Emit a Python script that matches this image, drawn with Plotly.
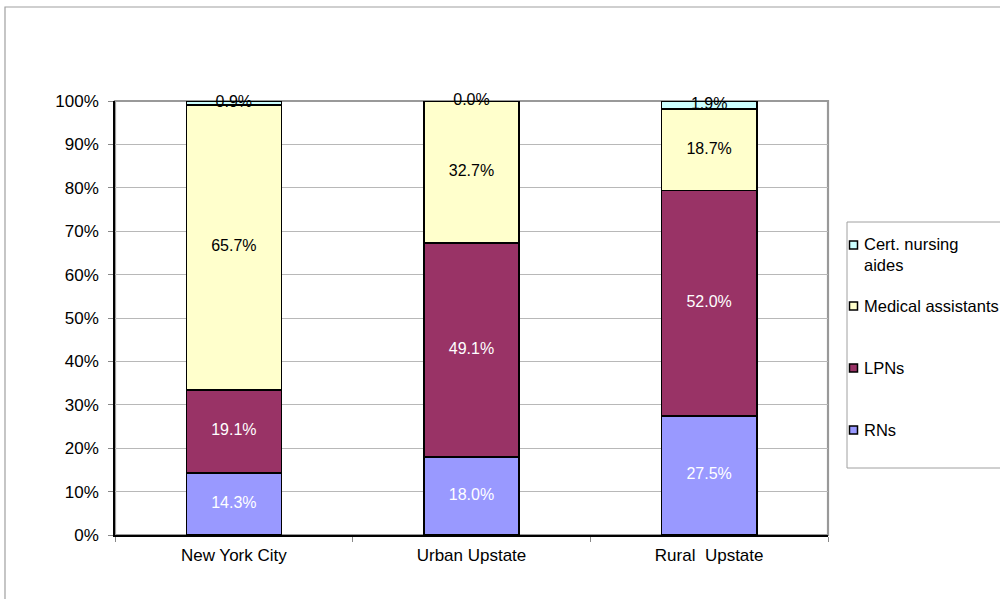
import plotly.graph_objects as go
import numpy as np

categories = ["New York City", "Urban Upstate", "Rural  Upstate"]
series_names = ["RNs", "LPNs", "Medical assistants", "Cert. nursing aides"]
rns = [14.3, 18.0, 27.5]
lpns = [19.1, 49.1, 52.0]
med_assist = [65.7, 32.7, 18.7]
cna = [0.9, 0.0, 1.9]
colors = ["#9999FF", "#993366", "#FFFFCC", "#CCFFFF"]
text_colors = ["white", "white", "black", "black"]
y_ticks = [0, 10, 20, 30, 40, 50, 60, 70, 80, 90, 100]

series = [rns, lpns, med_assist, cna]
FONT = "Liberation Sans, Arial, sans-serif"
FS = 16
AXFS = 17

fig = go.Figure()
arr = np.array(series, dtype=float)
totals = arr.sum(axis=0)
norm = arr / totals * 100
cum = np.cumsum(norm, axis=0)

for i, (name, vals) in enumerate(zip(series_names, series)):
    fig.add_trace(go.Bar(
        x=categories, y=list(norm[i]), name=name,
        marker=dict(color=colors[i], line=dict(color="black", width=1.6)),
        showlegend=False, hoverinfo="skip",
    ))

for i, vals in enumerate(series):
    mids = np.minimum(np.round(cum[i] - norm[i] / 2, 4), 99.999)
    fig.add_trace(go.Scatter(
        x=categories, y=list(mids), mode="text",
        text=[f"{v:.1f}%" for v in vals],
        textfont=dict(family=FONT, size=FS, color=text_colors[i]),
        showlegend=False, hoverinfo="skip", cliponaxis=False,
    ))

L, R, T, B = 115, 828, 101, 535
W, H = 1000, 599

def px(x):
    return (x - L) / (R - L)

def py(y):
    return (B - y) / (B - T)

shapes = []
annotations = []
# outer chart border
shapes.append(dict(type="rect", xref="paper", yref="paper",
                   x0=px(5), x1=px(1010), y0=py(607), y1=py(7),
                   line=dict(color="#A0A0A0", width=1.2), layer="below"))
# plot area border (top/right gray)
shapes.append(dict(type="rect", xref="paper", yref="paper",
                   x0=0, x1=1, y0=0, y1=1,
                   line=dict(color="#999999", width=2.2), layer="below"))
# legend box
shapes.append(dict(type="rect", xref="paper", yref="paper",
                   x0=px(847), x1=px(1010), y0=py(468), y1=py(222),
                   line=dict(color="#A0A0A0", width=1), layer="below"))

legend_items = [
    ("Cert. nursing<br>aides", colors[3], 245, 254),
    ("Medical assistants", colors[2], 306, 306),
    ("LPNs", colors[1], 368, 368),
    ("RNs", colors[0], 430, 430),
]
for label, col, ym, yt in legend_items:
    shapes.append(dict(type="rect", xref="paper", yref="paper",
                       x0=px(849.5), x1=px(857.5), y0=py(ym + 4), y1=py(ym - 4),
                       fillcolor=col, line=dict(color="black", width=1.5)))
    annotations.append(dict(xref="paper", yref="paper", x=px(862), y=py(yt),
                            text=label, showarrow=False, xanchor="left",
                            yanchor="middle", align="left",
                            font=dict(family=FONT, size=FS + 0.5, color="black")))

fig.update_layout(
    barmode="stack",
    bargap=0.6,
    width=W, height=H,
    margin=dict(l=L, r=W - R, t=T, b=H - B, pad=0),
    paper_bgcolor="white",
    plot_bgcolor="white",
    font=dict(family=FONT, size=FS, color="black"),
    shapes=shapes,
    annotations=annotations,
    showlegend=False,
    xaxis=dict(
        type="category", showline=True, linecolor="black", linewidth=1.5,
        ticks="outside", tickson="boundaries", ticklen=5, tickcolor="#888888",
        tickfont=dict(family=FONT, size=AXFS, color="black"),
        ticklabelstandoff=4,
        showgrid=False, zeroline=False, fixedrange=True,
    ),
    yaxis=dict(
        range=[0, 100], tickvals=y_ticks, ticktext=[f"{v}%" for v in y_ticks],
        showline=True, linecolor="black", linewidth=1.5,
        ticks="outside", ticklen=5, tickcolor="#888888",
        tickfont=dict(family=FONT, size=AXFS, color="black"),
        ticklabelstandoff=6,
        showgrid=True, gridcolor="#B8B8B8", gridwidth=1.2,
        zeroline=False, fixedrange=True,
    ),
)

fig.write_html("out.html", config={"displayModeBar": False},
               post_script="document.body.style.margin='0';document.body.style.overflow='hidden';")
